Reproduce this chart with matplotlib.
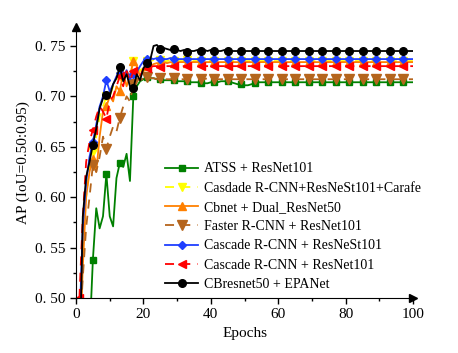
import matplotlib
matplotlib.use("Agg")
import matplotlib.pyplot as plt
from matplotlib.ticker import MultipleLocator, FixedLocator, FixedFormatter

epochs = list(range(1, 101))

atss = [0.30, 0.36, 0.42, 0.46, 0.538, 0.589, 0.569, 0.581, 0.623, 0.581,
        0.571, 0.619, 0.634, 0.630, 0.643, 0.616, 0.700, 0.710, 0.715, 0.717,
        0.719, 0.718, 0.718, 0.717, 0.717, 0.716, 0.716, 0.716, 0.716, 0.715,
        0.715, 0.715, 0.715, 0.714, 0.714, 0.714, 0.713, 0.713, 0.713, 0.714,
        0.714, 0.714, 0.715, 0.715, 0.715, 0.714, 0.713, 0.712, 0.712, 0.711,
        0.711, 0.712, 0.713, 0.714, 0.714, 0.714, 0.714, 0.714, 0.714, 0.714,
        0.714, 0.714, 0.714, 0.714, 0.714, 0.714, 0.714, 0.714, 0.714, 0.714,
        0.714, 0.714, 0.714, 0.714, 0.714, 0.714, 0.714, 0.714, 0.714, 0.714,
        0.714, 0.714, 0.714, 0.714, 0.714, 0.714, 0.714, 0.714, 0.714, 0.714,
        0.714, 0.714, 0.714, 0.714, 0.714, 0.714, 0.714, 0.714, 0.714, 0.714]

carafe = [0.45, 0.55, 0.60, 0.630, 0.645, 0.660, 0.680, 0.690, 0.700, 0.700,
          0.710, 0.715, 0.720, 0.715, 0.725, 0.720, 0.735, 0.730, 0.725, 0.730,
          0.735, 0.735, 0.736, 0.735, 0.736, 0.735, 0.735, 0.736, 0.735, 0.735,
          0.735, 0.735, 0.736, 0.735, 0.735, 0.735, 0.735, 0.735, 0.735, 0.735,
          0.735, 0.735, 0.735, 0.735, 0.735, 0.735, 0.735, 0.735, 0.735, 0.735,
          0.735, 0.735, 0.735, 0.735, 0.735, 0.735, 0.735, 0.735, 0.735, 0.735,
          0.735, 0.735, 0.735, 0.735, 0.735, 0.735, 0.735, 0.735, 0.735, 0.735,
          0.735, 0.735, 0.735, 0.735, 0.735, 0.735, 0.735, 0.735, 0.735, 0.735,
          0.735, 0.735, 0.735, 0.735, 0.735, 0.735, 0.735, 0.735, 0.735, 0.735,
          0.735, 0.735, 0.735, 0.735, 0.735, 0.735, 0.735, 0.735, 0.735, 0.735]

cbnet = [0.44, 0.53, 0.60, 0.625, 0.638, 0.625, 0.660, 0.685, 0.690, 0.700,
         0.695, 0.710, 0.705, 0.725, 0.710, 0.720, 0.735, 0.730, 0.720, 0.725,
         0.730, 0.730, 0.732, 0.733, 0.733, 0.734, 0.733, 0.734, 0.733, 0.734,
         0.734, 0.734, 0.733, 0.734, 0.734, 0.734, 0.734, 0.734, 0.734, 0.734,
         0.734, 0.734, 0.734, 0.734, 0.734, 0.734, 0.734, 0.734, 0.734, 0.734,
         0.734, 0.734, 0.734, 0.734, 0.734, 0.734, 0.734, 0.734, 0.734, 0.734,
         0.734, 0.734, 0.734, 0.734, 0.734, 0.734, 0.734, 0.734, 0.734, 0.734,
         0.734, 0.734, 0.734, 0.734, 0.734, 0.734, 0.734, 0.734, 0.734, 0.734,
         0.734, 0.734, 0.734, 0.734, 0.734, 0.734, 0.734, 0.734, 0.734, 0.734,
         0.734, 0.734, 0.734, 0.734, 0.734, 0.734, 0.734, 0.734, 0.734, 0.734]

faster = [0.46, 0.52, 0.57, 0.600, 0.632, 0.625, 0.640, 0.660, 0.648, 0.660,
          0.670, 0.665, 0.679, 0.690, 0.700, 0.695, 0.712, 0.718, 0.716, 0.718,
          0.719, 0.718, 0.718, 0.717, 0.718, 0.717, 0.717, 0.717, 0.718, 0.717,
          0.717, 0.717, 0.717, 0.717, 0.717, 0.717, 0.717, 0.717, 0.718, 0.717,
          0.717, 0.717, 0.717, 0.717, 0.717, 0.717, 0.717, 0.717, 0.717, 0.717,
          0.717, 0.717, 0.717, 0.717, 0.717, 0.717, 0.717, 0.717, 0.717, 0.717,
          0.717, 0.717, 0.717, 0.717, 0.717, 0.717, 0.717, 0.717, 0.717, 0.717,
          0.717, 0.717, 0.717, 0.717, 0.717, 0.717, 0.717, 0.717, 0.717, 0.717,
          0.717, 0.717, 0.717, 0.717, 0.717, 0.717, 0.717, 0.717, 0.717, 0.717,
          0.717, 0.717, 0.717, 0.717, 0.717, 0.717, 0.717, 0.717, 0.717, 0.717]

nest = [0.47, 0.57, 0.615, 0.640, 0.655, 0.672, 0.690, 0.700, 0.716, 0.705,
        0.712, 0.720, 0.723, 0.718, 0.726, 0.717, 0.722, 0.724, 0.730, 0.735,
        0.737, 0.738, 0.737, 0.738, 0.737, 0.737, 0.737, 0.738, 0.737, 0.737,
        0.737, 0.737, 0.737, 0.737, 0.737, 0.737, 0.737, 0.737, 0.737, 0.737,
        0.737, 0.737, 0.737, 0.737, 0.737, 0.737, 0.737, 0.737, 0.737, 0.737,
        0.737, 0.737, 0.737, 0.737, 0.737, 0.737, 0.737, 0.737, 0.737, 0.737,
        0.737, 0.737, 0.737, 0.737, 0.737, 0.737, 0.737, 0.737, 0.737, 0.737,
        0.737, 0.737, 0.737, 0.737, 0.737, 0.737, 0.737, 0.737, 0.737, 0.737,
        0.737, 0.737, 0.737, 0.737, 0.737, 0.737, 0.737, 0.737, 0.737, 0.737,
        0.737, 0.737, 0.737, 0.737, 0.737, 0.737, 0.737, 0.737, 0.737, 0.737]

r101 = [0.50, 0.58, 0.635, 0.655, 0.667, 0.680, 0.690, 0.685, 0.678, 0.695,
        0.700, 0.710, 0.720, 0.710, 0.725, 0.715, 0.725, 0.720, 0.720, 0.728,
        0.728, 0.729, 0.730, 0.730, 0.729, 0.730, 0.730, 0.730, 0.730, 0.730,
        0.730, 0.730, 0.730, 0.730, 0.730, 0.730, 0.730, 0.730, 0.730, 0.730,
        0.730, 0.730, 0.730, 0.730, 0.730, 0.730, 0.730, 0.730, 0.730, 0.730,
        0.730, 0.730, 0.730, 0.730, 0.730, 0.730, 0.730, 0.730, 0.730, 0.730,
        0.730, 0.730, 0.730, 0.730, 0.730, 0.730, 0.730, 0.730, 0.730, 0.730,
        0.730, 0.730, 0.730, 0.730, 0.730, 0.730, 0.730, 0.730, 0.730, 0.730,
        0.730, 0.730, 0.730, 0.730, 0.730, 0.730, 0.730, 0.730, 0.730, 0.730,
        0.730, 0.730, 0.730, 0.730, 0.730, 0.730, 0.730, 0.730, 0.730, 0.730]

epanet = [0.42, 0.58, 0.620, 0.635, 0.652, 0.668, 0.688, 0.698, 0.701, 0.700,
          0.712, 0.718, 0.729, 0.715, 0.722, 0.710, 0.708, 0.722, 0.716, 0.728,
          0.733, 0.736, 0.750, 0.751, 0.747, 0.748, 0.747, 0.746, 0.747, 0.746,
          0.745, 0.746, 0.744, 0.745, 0.745, 0.746, 0.745, 0.746, 0.745, 0.746,
          0.745, 0.745, 0.745, 0.746, 0.745, 0.745, 0.745, 0.745, 0.745, 0.745,
          0.745, 0.745, 0.745, 0.745, 0.745, 0.745, 0.745, 0.745, 0.745, 0.745,
          0.745, 0.745, 0.745, 0.745, 0.745, 0.745, 0.745, 0.745, 0.745, 0.745,
          0.745, 0.745, 0.745, 0.745, 0.745, 0.745, 0.745, 0.745, 0.745, 0.745,
          0.745, 0.745, 0.745, 0.745, 0.745, 0.745, 0.745, 0.745, 0.745, 0.745,
          0.745, 0.745, 0.745, 0.745, 0.745, 0.745, 0.745, 0.745, 0.745, 0.745]

labels = ["ATSS + ResNet101",
          "Casdade R-CNN+ResNeSt101+Carafe",
          "Cbnet + Dual_ResNet50",
          "Faster R-CNN + ResNet101",
          "Cascade R-CNN + ResNeSt101",
          "Cascade R-CNN + ResNet101",
          "CBresnet50 + EPANet"]

ytick_vals = [0.50, 0.55, 0.60, 0.65, 0.70, 0.75]
ytick_labels = ["0. 50", "0. 55", "0. 60", "0. 65", "0. 70", "0. 75"]
xtick_vals = [0, 20, 40, 60, 80, 100]

plt.rcParams['font.family'] = ['Liberation Serif', 'DejaVu Serif']

fig = plt.figure(figsize=(4.58, 3.53), dpi=100)
ax = fig.add_axes([0.166, 0.156, 0.736, 0.768])

series = [atss, carafe, cbnet, faster, nest, r101, epanet]
colors = ['#008000', '#FFFF00', '#FF8000', '#B5651D', '#1F3FFF', '#FF0000', '#000000']
markers = ['s', 'v', '^', 'v', 'D', '<', 'o']
styles = ['-', (0, (5, 4)), '-', (0, (5, 4)), '-', (0, (5, 4)), '-']
msizes = [4.5, 5.5, 5.5, 6.5, 4.5, 6, 5.5]

for ys, c, m, ls, ms, lab in zip(series, colors, markers, styles, msizes, labels):
    ax.plot(epochs, ys, color=c, marker=m, linestyle=ls, linewidth=1.3,
            markersize=ms, markevery=4, label=lab, clip_on=True)

ax.set_xlim(0, 100)
ax.set_ylim(0.5, 0.769)
ax.spines['top'].set_visible(False)
ax.spines['right'].set_visible(False)
ax.xaxis.set_major_locator(FixedLocator(xtick_vals))
ax.xaxis.set_minor_locator(MultipleLocator(10))
ax.yaxis.set_major_locator(FixedLocator(ytick_vals))
ax.yaxis.set_major_formatter(FixedFormatter(ytick_labels))
ax.yaxis.set_minor_locator(MultipleLocator(0.025))
ax.tick_params(which='major', direction='out', length=4, width=1, labelsize=11)
ax.tick_params(which='minor', direction='out', length=2.5, width=1)
ax.set_xlabel("Epochs", fontsize=11)
ax.set_ylabel("AP (IoU=0.50:0.95)", fontsize=11)

ax.plot(1, 0, marker='>', color='k', markersize=6, transform=ax.transAxes, clip_on=False)
ax.plot(0, 1, marker='^', color='k', markersize=6, transform=ax.transAxes, clip_on=False)

ax.legend(loc='lower left', bbox_to_anchor=(0.235, -0.01), frameon=False,
          fontsize=10, handlelength=2.4, labelspacing=0.45, handletextpad=0.4,
          borderpad=0.2)

fig.savefig("out.png", dpi=100)
